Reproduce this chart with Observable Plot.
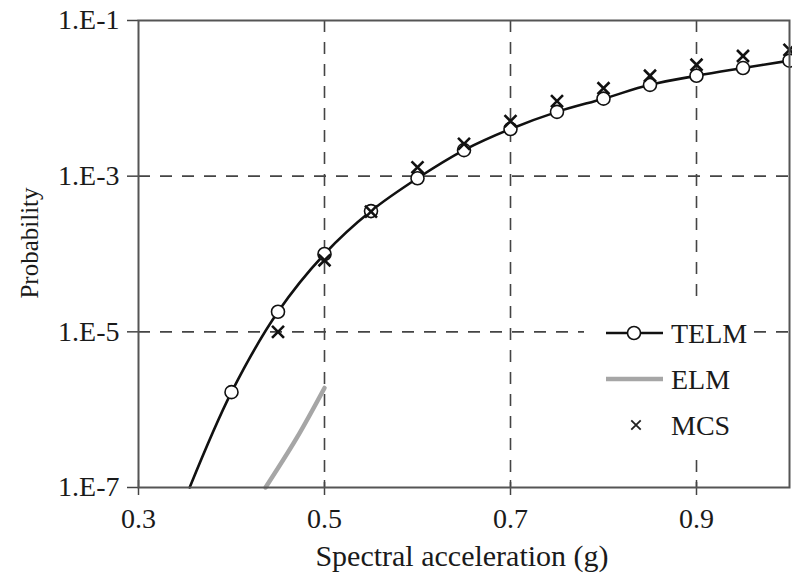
<!DOCTYPE html>
<html><head><meta charset="utf-8">
<script src="https://cdn.jsdelivr.net/npm/d3@7"></script>
<script src="https://cdn.jsdelivr.net/npm/@observablehq/plot@0.6"></script>
<style>body{margin:0;background:#fff}#chart{width:792px;height:575px}</style>
</head><body><div id="chart"></div>
<script>
// Spectral acceleration (g)
const telmX = [0.40, 0.45, 0.50, 0.55, 0.60, 0.65, 0.70, 0.75, 0.80, 0.85, 0.90, 0.95, 1.00];
const telmP = [1.68e-6, 1.81e-5, 1.0e-4, 3.56e-4, 9.4e-4, 2.16e-3, 4.04e-3, 6.7e-3, 9.9e-3, 1.49e-2, 1.95e-2, 2.45e-2, 3.05e-2];
// TELM fitted curve (extends below the markers down to the axis)
const telmCurveX = [0.355, 0.40, 0.45, 0.50, 0.55, 0.60, 0.65, 0.70, 0.75, 0.80, 0.85, 0.90, 0.95, 1.00];
const telmCurveP = [1.0e-7, 1.68e-6, 1.81e-5, 1.0e-4, 3.56e-4, 9.4e-4, 2.16e-3, 4.04e-3, 6.7e-3, 9.9e-3, 1.49e-2, 1.95e-2, 2.45e-2, 3.05e-2];
const elmX = [0.4366, 0.47, 0.50];
const elmP = [1.0e-7, 4.3e-7, 1.9e-6];
const mcsX = [0.45, 0.50, 0.55, 0.60, 0.65, 0.70, 0.75, 0.80, 0.85, 0.90, 0.95, 1.00];
const mcsP = [1.0e-5, 8.3e-5, 3.5e-4, 1.3e-3, 2.6e-3, 5.1e-3, 9.2e-3, 1.35e-2, 1.95e-2, 2.7e-2, 3.5e-2, 4.2e-2];
const xTicks = [0.3, 0.5, 0.7, 0.9];
const yTicks = [1e-1, 1e-3, 1e-5, 1e-7];
const xGrid = [0.5, 0.7, 0.9];
const yGrid = [1e-3, 1e-5];
const legendItems = ["TELM", "ELM", "MCS"];

const telm = telmX.map((x, i) => ({x, p: telmP[i]}));
const telmCurve = telmCurveX.map((x, i) => ({x, p: telmCurveP[i]}));
const elm = elmX.map((x, i) => ({x, p: elmP[i]}));
const mcs = mcsX.map((x, i) => ({x, p: mcsP[i]}));

const FONT = "Liberation Serif, Times New Roman, serif";
const fmtY = d => "1.E" + Math.round(Math.log10(d));

const chart = Plot.plot({
  width: 792, height: 575,
  marginLeft: 138, marginRight: 3, marginTop: 20, marginBottom: 88,
  style: {fontFamily: FONT, fontSize: "28px", color: "#1a1a1a", background: "#fff"},
  x: {domain: [0.3, 1.0]},
  y: {type: "log", domain: [1e-7, 1e-1]},
  marks: [
    Plot.ruleX(xGrid, {stroke: "#444", strokeWidth: 1.6, strokeDasharray: "12,10"}),
    Plot.ruleY(yGrid, {stroke: "#444", strokeWidth: 1.6, strokeDasharray: "12,10"}),
    Plot.axisX(xTicks, {tickSize: 8, tickPadding: 13, tickFormat: d3.format(".1f"), label: null, stroke: "#444", strokeWidth: 1.5, fontSize: 28}),
    Plot.axisX(xTicks, {tickSize: 7, dy: -7, text: null, label: null, stroke: "#444", strokeWidth: 1.5}),
    Plot.axisY(yTicks, {tickSize: 11, tickPadding: 8, tickFormat: fmtY, label: null, stroke: "#444", strokeWidth: 1.5, fontSize: 28}),
    Plot.line(elm, {x: "x", y: "p", stroke: "#a6a6a6", strokeWidth: 4.5, curve: "catmull-rom"}),
    Plot.line(telmCurve, {x: "x", y: "p", stroke: "#111", strokeWidth: 2.6, curve: "catmull-rom"}),
    Plot.dot(telm, {x: "x", y: "p", r: 6.5, fill: "#fff", stroke: "#111", strokeWidth: 1.6}),
    Plot.dot(mcs, {x: "x", y: "p", symbol: "times", r: 5.5, stroke: "#111", strokeWidth: 2.6}),
    Plot.frame({stroke: "#555", strokeWidth: 2})
  ]
});
document.getElementById("chart").appendChild(chart);

// Legend and axis titles
const svg = d3.select(chart);
const lg = svg.append("g");
lg.append("rect").attr("x", 584).attr("y", 304).attr("width", 170).attr("height", 152).attr("fill", "#fff");
const rows = [333, 379, 425];
// TELM
lg.append("line").attr("x1", 606).attr("x2", 663).attr("y1", rows[0]).attr("y2", rows[0]).attr("stroke", "#111").attr("stroke-width", 2.6);
lg.append("circle").attr("cx", 634).attr("cy", rows[0]).attr("r", 6.5).attr("fill", "#fff").attr("stroke", "#111").attr("stroke-width", 1.6);
// ELM
lg.append("line").attr("x1", 606).attr("x2", 663).attr("y1", rows[1]).attr("y2", rows[1]).attr("stroke", "#a6a6a6").attr("stroke-width", 4.5);
// MCS
lg.append("path").attr("d", d3.symbol(d3.symbolTimes, 60)()).attr("transform", `translate(636,${rows[2]})`).attr("stroke", "#222").attr("stroke-width", 1.8).attr("fill", "none");
legendItems.forEach((t, i) => {
  lg.append("text").attr("x", 671).attr("y", rows[i]).attr("dy", "0.35em").attr("text-anchor", "start")
    .attr("font-family", FONT).attr("font-size", 28).attr("fill", "#1a1a1a").text(t);
});
svg.append("text").attr("x", 462).attr("y", 566).attr("text-anchor", "middle").attr("font-family", FONT).attr("font-size", 30).attr("fill", "#1a1a1a").text("Spectral acceleration (g)");
svg.append("text").attr("transform", "translate(38,243) rotate(-90)").attr("text-anchor", "middle").attr("font-family", FONT).attr("font-size", 25).attr("fill", "#1a1a1a").text("Probability");
</script>
</body></html>
